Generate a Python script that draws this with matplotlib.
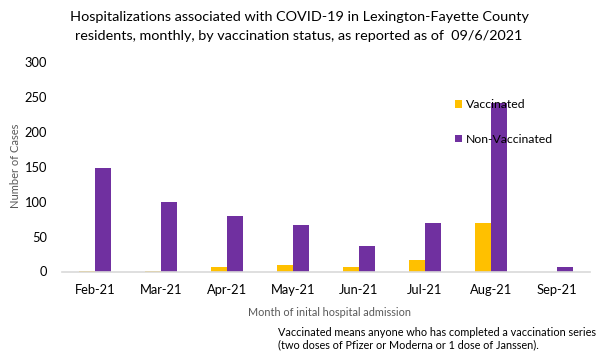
import matplotlib
matplotlib.use("Agg")
import matplotlib.pyplot as plt
import numpy as np

months = ["Feb-21", "Mar-21", "Apr-21", "May-21", "Jun-21", "Jul-21", "Aug-21", "Sep-21"]
vaccinated = [1, 1, 6, 9, 6, 17, 69, 0]
non_vaccinated = [148, 100, 79, 67, 36, 69, 241, 7]
y_ticks = [0, 50, 100, 150, 200, 250, 300]

plt.rcParams['font.family'] = ['Lato', 'DejaVu Sans']

W, H = 602, 357
fig = plt.figure(figsize=(W/100, H/100), dpi=100)
ax = fig.add_axes([62/W, 1 - 271.5/H, 528/W, 209.5/H])

x = np.arange(len(months))
w = 0.24
ax.bar(x - w/2, vaccinated, w, color="#FFC000", label="Vaccinated")
ax.bar(x + w/2, non_vaccinated, w, color="#7030A0", label="Non-Vaccinated")

ax.set_xlim(-0.5, len(months) - 0.5)
ax.set_ylim(0, 300)
ax.set_yticks(y_ticks)
ax.set_xticks(x)
ax.set_xticklabels(months)
ax.tick_params(axis='both', length=0, labelsize=9.3, colors="#000000")
ax.tick_params(axis='y', pad=10.5)
ax.tick_params(axis='x', pad=9)
for s in ["top", "right", "left"]:
    ax.spines[s].set_visible(False)
ax.spines["bottom"].set_color("#D9D9D9")
ax.spines["bottom"].set_linewidth(1.2)

fig.text(16/W, 1 - 166/H, "Number of Cases", fontsize=8.0, color="#595959",
         rotation=90, ha="center", va="center")
fig.text(330/W, 1 - 313/H, "Month of inital hospital admission", fontsize=7.8,
         color="#595959", ha="center", va="center")

fig.text(299/W, 1 - 17/H, "Hospitalizations associated with COVID-19 in Lexington-Fayette County",
         fontsize=10.4, ha="center", va="center")
fig.text(299/W, 1 - 36/H, "residents, monthly, by vaccination status, as reported as of  09/6/2021",
         fontsize=10.4, ha="center", va="center")

fig.text(278/W, 1 - 333/H, "Vaccinated means anyone who has completed a vaccination series",
         fontsize=7.8, ha="left", va="center")
fig.text(278/W, 1 - 345/H, "(two doses of Pfizer or Moderna or 1 dose of Janssen).",
         fontsize=7.8, ha="left", va="center")

leg = ax.legend(loc="upper left", bbox_to_anchor=(455/W, 1 - 99/H),
                bbox_transform=fig.transFigure, frameon=False, fontsize=8.8,
                handlelength=0.6, handleheight=0.6, handletextpad=0.3,
                labelspacing=1.95, borderaxespad=0, borderpad=0)

fig.savefig("out.png", dpi=100)
